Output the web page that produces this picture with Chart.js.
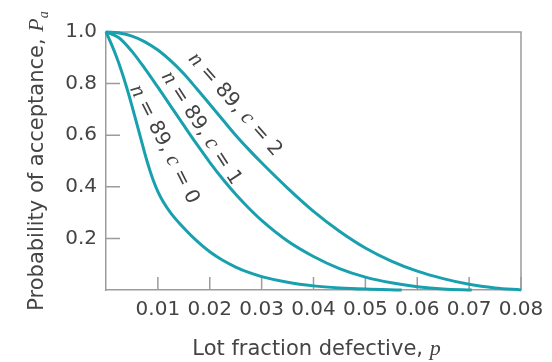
<!DOCTYPE html>
<html>
<head>
<meta charset="utf-8">
<script src="https://cdn.jsdelivr.net/npm/chart.js@4"></script>
<style>
  html, body { margin: 0; padding: 0; background: #ffffff; }
  #chart { display: block; }
</style>
</head>
<body>
<canvas id="chart" width="552" height="362"></canvas>
<script>
// Operating-characteristic curves, sample size n = 89, acceptance numbers c = 0, 1, 2
const pC0  = [0, 0.001, 0.002, 0.003, 0.004, 0.005, 0.006, 0.007, 0.008, 0.009, 0.010, 0.011, 0.0125, 0.015, 0.0175, 0.02, 0.0225, 0.025, 0.0275, 0.03, 0.035, 0.04, 0.045, 0.05, 0.057];
const paC0 = [1.0, 0.955, 0.905, 0.848, 0.784, 0.714, 0.640, 0.565, 0.493, 0.431, 0.381, 0.343, 0.298, 0.24, 0.19, 0.148, 0.115, 0.089, 0.068, 0.052, 0.03, 0.016, 0.008, 0.0035, 0.0];

const pC1  = [0, 0.0025, 0.005, 0.0075, 0.01, 0.0125, 0.015, 0.0175, 0.02, 0.0225, 0.025, 0.0275, 0.03, 0.035, 0.04, 0.045, 0.05, 0.055, 0.06, 0.065, 0.0705];
const paC1 = [1.0, 0.978, 0.925, 0.858, 0.786, 0.712, 0.638, 0.565, 0.495, 0.43, 0.371, 0.318, 0.27, 0.19, 0.13, 0.083, 0.05, 0.028, 0.013, 0.004, 0.0];

const pC2  = [0, 0.0025, 0.005, 0.0075, 0.01, 0.0125, 0.015, 0.0175, 0.02, 0.0225, 0.025, 0.0275, 0.03, 0.035, 0.04, 0.045, 0.05, 0.055, 0.06, 0.065, 0.07, 0.075, 0.08];
const paC2 = [1.0, 0.996, 0.984, 0.962, 0.93, 0.888, 0.838, 0.78, 0.72, 0.66, 0.60, 0.545, 0.493, 0.395, 0.305, 0.228, 0.163, 0.112, 0.073, 0.044, 0.022, 0.008, 0.0];

const acceptanceNumbers = [0, 1, 2];
const sampleSize = 89;

const xTicks = [0.01, 0.02, 0.03, 0.04, 0.05, 0.06, 0.07, 0.08];
const yTicks = [0.2, 0.4, 0.6, 0.8, 1.0];

const CURVE = '#18a0ae';
const AXIS = '#9c9c9c';
const TEXT = '#444444';
const SANS = "'DejaVu Sans', Verdana, sans-serif";
const FS = 20;
const TITLE_FS = 21;
const SERIF_IT = "italic 22px 'Liberation Serif', 'Times New Roman', serif";

function pts(xs, ys) { return xs.map((x, i) => ({ x: x, y: ys[i] })); }

const series = [pts(pC0, paC0), pts(pC1, paC1), pts(pC2, paC2)];

// where each curve's caption sits (data coordinates) and its slant in degrees
const captions = [
  { p: 0.0103, pa: 0.555, angle: 63 },
  { p: 0.0175, pa: 0.616, angle: 57 },
  { p: 0.0241, pa: 0.705, angle: 48.5 }
];

function drawRich(ctx, parts, cx, cy, angleDeg) {
  ctx.save();
  ctx.translate(cx, cy);
  ctx.rotate(angleDeg * Math.PI / 180);
  let total = 0;
  parts.forEach(pt => { ctx.font = pt.font; pt.w = ctx.measureText(pt.t).width; total += pt.w; });
  let x = -total / 2;
  ctx.fillStyle = TEXT;
  ctx.textAlign = 'left';
  ctx.textBaseline = 'alphabetic';
  parts.forEach(pt => {
    ctx.font = pt.font;
    ctx.fillText(pt.t, x, pt.dy || 0);
    x += pt.w;
  });
  ctx.restore();
}

const decorations = {
  id: 'decorations',
  beforeDatasetsDraw(chart) {
    const { ctx, chartArea: a, scales } = chart;
    ctx.save();
    ctx.strokeStyle = AXIS;
    ctx.lineWidth = 1.5;
    // top and right frame
    ctx.beginPath();
    ctx.moveTo(a.left, a.top); ctx.lineTo(a.right, a.top); ctx.lineTo(a.right, a.bottom);
    ctx.stroke();
    // inward tick marks
    ctx.beginPath();
    xTicks.forEach(v => {
      const x = scales.x.getPixelForValue(v);
      ctx.moveTo(x, a.bottom); ctx.lineTo(x, a.bottom - 13);
    });
    yTicks.forEach(v => {
      const y = scales.y.getPixelForValue(v);
      ctx.moveTo(a.left, y); ctx.lineTo(a.left + 14, y);
    });
    ctx.stroke();
    ctx.restore();
  },
  afterDatasetsDraw(chart) {
    const { ctx, chartArea: a, scales } = chart;
    const sans = FS + 'px ' + SANS;
    const titleSans = TITLE_FS + 'px ' + SANS;
    captions.forEach((c, i) => {
      const cx = scales.x.getPixelForValue(c.p);
      const cy = scales.y.getPixelForValue(c.pa);
      drawRich(ctx, [
        { t: 'n', font: SERIF_IT },
        { t: ' = ' + sampleSize + ', ', font: sans },
        { t: 'c', font: SERIF_IT },
        { t: ' = ' + acceptanceNumbers[i], font: sans }
      ], cx, cy, c.angle);
    });
    // axis titles
    drawRich(ctx, [
      { t: 'Lot fraction defective, ', font: titleSans },
      { t: 'p', font: SERIF_IT }
    ], (a.left + a.right) / 2 + 3, 355, 0);
    drawRich(ctx, [
      { t: 'Probability of acceptance, ', font: titleSans },
      { t: 'P', font: SERIF_IT },
      { t: 'a', font: "italic 14px 'Liberation Serif', serif", dy: 5 }
    ], 43, (a.top + a.bottom) / 2, -90);
  }
};

new Chart(document.getElementById('chart'), {
  type: 'line',
  data: {
    datasets: series.map((d, i) => ({
      label: 'n = ' + sampleSize + ', c = ' + acceptanceNumbers[i],
      data: d,
      borderColor: CURVE,
      borderWidth: 3,
      pointRadius: 0,
      fill: false,
      cubicInterpolationMode: 'monotone',
      clip: false
    }))
  },
  options: {
    responsive: false,
    animation: false,
    devicePixelRatio: 1,
    layout: { padding: { top: 32, right: 31, left: 0, bottom: 0 } },
    plugins: { legend: { display: false }, tooltip: { enabled: false } },
    scales: {
      x: {
        type: 'linear', min: 0, max: 0.08,
        afterFit(s) { s.height = 72; },
        afterBuildTicks(s) { s.ticks = [0].concat(xTicks).map(v => ({ value: v })); },
        grid: { display: false },
        border: { color: AXIS, width: 1.5 },
        ticks: {
          padding: 0, color: TEXT, font: { family: SANS, size: FS },
          callback: v => v === 0 ? '' : v.toFixed(2)
        }
      },
      y: {
        min: 0, max: 1,
        afterFit(s) { s.width = 106; },
        afterBuildTicks(s) { s.ticks = [0].concat(yTicks).map(v => ({ value: v })); },
        grid: { display: false },
        border: { color: AXIS, width: 1.5 },
        ticks: {
          padding: 1, color: TEXT, font: { family: SANS, size: FS },
          callback: v => v === 0 ? '' : v.toFixed(1)
        }
      }
    }
  },
  plugins: [decorations]
});
</script>
</body>
</html>
